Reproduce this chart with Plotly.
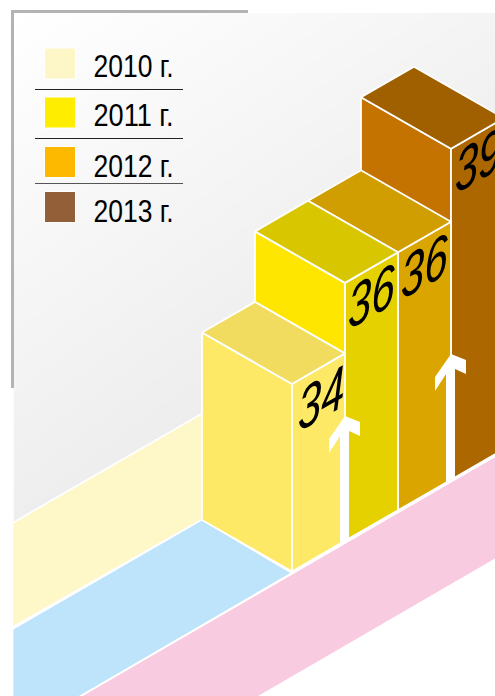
import plotly.graph_objects as go

# ---- data ----
years = ["2010 г.", "2011 г.", "2012 г.", "2013 г."]
values = [34, 36, 36, 39]
bar_heights = [187.5, 258, 258, 331]      # drawn height of every column
legend_colors = ["#fdf7c8", "#ffed00", "#fdb900", "#925f38"]
top_colors = ["#f2dc60", "#d8c600", "#d09e00", "#a06000"]
left_colors = ["#fee966", "#ffe600", "#dba500", "#c57300"]
right_colors = ["#fee966", "#e5d000", "#dba500", "#ac6700"]
legend_square_y = [63.5, 112.5, 162, 207]
legend_text_y = [69, 118.5, 169.5, 214]
legend_rule_y = [89.5, 138.5, 183.5]
legend_rule_colors = ["#222222", "#222222", "#555555"]

# background gradient (grey levels at the four panel corners)
gradient_levels = [[255, 244], [238, 226]]

# layout of the drawing, in page units
front_x0, base_y0 = 292, 571.5
bar_w, bar_rise = 53, 30.6
bar_d, bar_drop = 90, 51.5
wall_band = [(12.5, 523), (203, 413), (203, 519), (12.5, 627)]
floor_band = [(12.5, 629), (202, 519.5), (292, 573), (74, 700), (12.5, 700)]
pink_band = [(74, 700), (292, 573.5), (515, 444.5), (515, 548), (253, 700)]
label_offsets = [(29, 14), (26, 14), (26, 14), (27, 12)]
arrow_shape = [(0, 5), (9, -1), (9, -110), (20, -105), (20, -119), (5, -125),
               (-11, -102), (-11, -88), (0, -105)]
arrow_anchors = [(340, 541), (446, 479)]


fig = go.Figure()


def poly(pts, color, lw=1.8, line="white"):
    xs = [p[0] for p in pts] + [pts[0][0]]
    ys = [p[1] for p in pts] + [pts[0][1]]
    fig.add_trace(go.Scatter(x=xs, y=ys, mode="lines", fill="toself", fillcolor=color,
                             line=dict(color=line, width=lw), hoverinfo="skip",
                             showlegend=False, xaxis="x2", yaxis="y2"))


# background
fig.add_trace(go.Heatmap(x=[0, 1], y=[0, 1], z=gradient_levels, zmin=224, zmax=255, zsmooth="best",
                         colorscale=[[0, "rgb(224,224,224)"], [1, "rgb(255,255,255)"]],
                         showscale=False, hoverinfo="skip"))

# frame
for fx, fy in (([11, 248], [11.5, 11.5]), ([12.5, 12.5], [10, 388])):
    fig.add_trace(go.Scatter(x=fx, y=fy, mode="lines", line=dict(color="#b3b3b3", width=3),
                             hoverinfo="skip", showlegend=False, xaxis="x2", yaxis="y2"))

poly(wall_band, "#fef7c7")
poly(floor_band, "#bde4fb")
poly(pink_band, "#f9cbe1")

# columns, back to front
for i in reversed(range(len(values))):
    fx = front_x0 + bar_w * i
    by = base_y0 - bar_rise * i
    ty = by - bar_heights[i]
    poly([(fx - bar_d, ty - bar_drop), (fx, ty), (fx, by), (fx - bar_d, by - bar_drop)], left_colors[i])
    poly([(fx, ty), (fx + bar_w, ty - bar_rise), (fx + bar_w, by - bar_rise), (fx, by)], right_colors[i])
    poly([(fx - bar_d, ty - bar_drop), (fx - bar_d + bar_w, ty - bar_drop - bar_rise),
          (fx + bar_w, ty - bar_rise), (fx, ty)], top_colors[i])

# arrows
for ax, ay in arrow_anchors:
    poly([(ax + dx, ay + dy) for dx, dy in arrow_shape], "white", lw=0)

# legend
fig.add_trace(go.Scatter(x=[60] * 4, y=legend_square_y, mode="markers",
                         marker=dict(symbol="square", size=31, color=legend_colors,
                                     line=dict(color="white", width=1)),
                         hoverinfo="skip", showlegend=False, xaxis="x2", yaxis="y2"))
fig.add_trace(go.Scatter(x=[93.5] * 4, y=legend_text_y, mode="text", text=years,
                         textposition="middle right",
                         textfont=dict(family="Liberation Sans", size=31, color="#000000"),
                         hoverinfo="skip", showlegend=False, xaxis="x2", yaxis="y2"))
for ry, rc in zip(legend_rule_y, legend_rule_colors):
    fig.add_trace(go.Scatter(x=[35, 183], y=[ry, ry], mode="lines", line=dict(color=rc, width=1.2),
                             hoverinfo="skip", showlegend=False, xaxis="x2", yaxis="y2"))

# value labels (slanted onto the right face by the script below)
annotations = []
for i, v in enumerate(values):
    fx = front_x0 + bar_w * i
    ty = base_y0 - bar_rise * i - bar_heights[i]
    dx, dy = label_offsets[i]
    annotations.append(dict(x=fx + dx, y=ty + dy, xref="x2", yref="y2", text=f"<i>{v}</i>",
                            showarrow=False, xanchor="center", yanchor="middle",
                            font=dict(family="Liberation Sans", size=60, color="black")))

fig.update_layout(
    width=495, height=696, margin=dict(l=0, r=0, t=0, b=0),
    paper_bgcolor="white", plot_bgcolor="rgba(0,0,0,0)", showlegend=False,
    annotations=annotations,
    xaxis=dict(domain=[13.5 / 495, 1], range=[0, 1], visible=False, fixedrange=True),
    yaxis=dict(domain=[1 - 530 / 696, 1 - 13 / 696], range=[1, 0], visible=False, fixedrange=True),
    xaxis2=dict(domain=[0, 1], range=[0, 495], visible=False, fixedrange=True, anchor="y2"),
    yaxis2=dict(domain=[0, 1], range=[696, 0], visible=False, fixedrange=True, anchor="x2"),
)

post = """
document.body.style.margin='0';document.body.style.overflow='hidden';
document.querySelectorAll('.textpoint text').forEach(function(t){
  t.setAttribute('textLength','80');t.setAttribute('lengthAdjust','spacingAndGlyphs');
});
document.querySelectorAll('.annotation-text').forEach(function(t){
  var b=t.getBBox(),cx=b.x+b.width/2,cy=b.y+b.height/2,old=t.getAttribute('transform')||'';
  t.setAttribute('transform',old+' translate('+cx+','+cy+') skewY(-30) scale(0.7,1) translate('+(-cx)+','+(-cy)+')');
});
"""
fig.write_html("out.html", config=dict(displayModeBar=False), post_script=post)
